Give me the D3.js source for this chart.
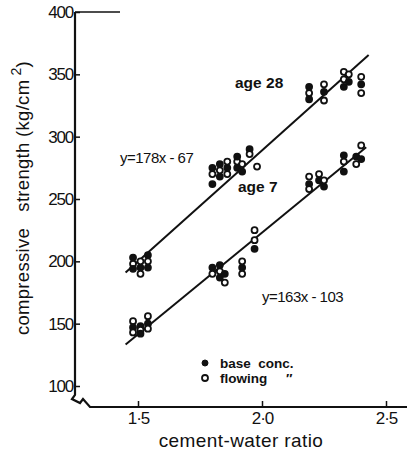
<!DOCTYPE html>
<html><head><meta charset="utf-8">
<script src="https://cdn.jsdelivr.net/npm/d3@7"></script>
<style>
body{margin:0;background:#fff;}
text{font-family:"Liberation Sans",Arial,sans-serif;fill:#111;}
</style></head>
<body><svg id="c" width="407" height="454"></svg>
<script>
// ---- data ----
const xTicks = [1.5, 2.0, 2.5];
const xTickLabels = ["1·5", "2·0", "2·5"];
const yTicks = [100, 150, 200, 250, 300, 350, 400];

// age 28 points: cement-water ratio, strength, flowing (1) / base (0)
const x28 = [1.48,1.48,1.48,1.51,1.51,1.51,1.54,1.54,1.54,
             1.80,1.80,1.80,1.83,1.83,1.83,1.86,1.86,1.86,1.90,1.90,1.90,1.92,1.92,1.95,1.95,1.98,
             2.19,2.19,2.19,2.25,2.25,2.25,
             2.33,2.33,2.33,2.35,2.35,2.40,2.40,2.40];
const y28 = [203,198,194,200,195,190,205,200,195,
             262,270,275,268,273,278,270,275,280,275,280,284,272,278,290,286,276,
             330,335,340,329,336,342,
             340,346,352,344,350,335,342,348];
const f28 = [0,1,0,1,0,1,0,1,0,
             0,1,0,0,1,0,1,0,1,0,1,0,0,1,0,1,1,
             0,1,0,1,0,1,
             0,1,1,0,1,1,0,1];

// age 7 points
const x7 = [1.48,1.48,1.48,1.51,1.51,1.51,1.54,1.54,1.54,
            1.80,1.80,1.83,1.83,1.83,1.85,1.85,1.92,1.92,1.92,1.97,1.97,1.97,
            2.19,2.19,2.19,2.23,2.23,2.25,2.25,
            2.33,2.33,2.33,2.38,2.38,2.40,2.40];
const y7 = [152,147,143,148,145,142,156,150,146,
            195,190,197,192,187,183,190,200,195,190,210,217,225,
            268,262,258,265,270,260,265,
            272,280,285,278,284,282,293];
const f7 = [1,0,1,0,1,0,1,0,1,
            0,1,0,1,0,1,0,1,0,1,0,1,1,
            1,0,1,0,1,0,1,
            0,1,0,1,0,0,1];

// regression lines: slope, intercept, x-range
const line28 = {a:178, b:-67, x0:1.45, x1:2.43};
const line7  = {a:163, b:-103, x0:1.45, x1:2.42};

// ---- chart ----
const svg = d3.select("#c");
const x = d3.scaleLinear().domain([1.5, 2.5]).range([138, 386]);
const y = d3.scaleLinear().domain([100, 400]).range([386, 12]);
const axX = 75, axY = 407;

// y axis line with break
svg.append("path")
  .attr("d", `M${axX},${y(400)} L${axX},395 L72,399 L80,403 L83,399 L90,${axY} L407,${axY}`)
  .attr("fill","none").attr("stroke","#111").attr("stroke-width",2.2);
// top frame piece
svg.append("line").attr("x1",axX).attr("x2",120).attr("y1",y(400)).attr("y2",y(400))
  .attr("stroke","#111").attr("stroke-width",1.6);

const yAxis = svg.append("g").attr("transform",`translate(${axX},0)`)
  .call(d3.axisLeft(y).tickValues(yTicks).tickSizeInner(-5).tickSizeOuter(0).tickPadding(2));
yAxis.select(".domain").remove();
yAxis.selectAll("line").attr("stroke","#111").attr("stroke-width",1.5);
yAxis.selectAll("text").attr("font-size",17).attr("letter-spacing","-1.2px")
  .attr("fill","#111").attr("font-family","Liberation Sans, Arial, sans-serif");

const xAxis = svg.append("g").attr("transform",`translate(0,${axY})`)
  .call(d3.axisBottom(x).tickValues(xTicks).tickFormat((d,i)=>xTickLabels[i])
    .tickSizeInner(-6).tickSizeOuter(0).tickPadding(5));
xAxis.select(".domain").remove();
xAxis.selectAll("line").attr("stroke","#111").attr("stroke-width",1.5);
xAxis.selectAll("text").attr("font-size",17).attr("letter-spacing","-1px")
  .attr("fill","#111").attr("font-family","Liberation Sans, Arial, sans-serif");

// axis titles
svg.append("text").attr("x",241).attr("y",447).attr("text-anchor","middle")
  .attr("font-size",19).attr("letter-spacing","0.4px").text("cement-water ratio");
svg.append("text").attr("transform","translate(29,198) rotate(-90)").attr("text-anchor","middle")
  .attr("font-size",18.5).attr("letter-spacing","0.3px").attr("xml:space","preserve")
  .html('compressive   strength (kg/cm<tspan dy="-8" font-size="14"> 2</tspan><tspan dy="8">)</tspan>');

// regression lines
[line28, line7].forEach(L=>{
  svg.append("line")
    .attr("x1",x(L.x0)).attr("y1",y(L.a*L.x0+L.b))
    .attr("x2",x(L.x1)).attr("y2",y(L.a*L.x1+L.b))
    .attr("stroke","#111").attr("stroke-width",2);
});

// points
function drawPts(xs, ys, fs){
  svg.append("g").selectAll("circle").data(xs.map((d,i)=>({x:d,y:ys[i],f:fs[i]})))
    .join("circle")
    .attr("cx",d=>x(d.x)).attr("cy",d=>y(d.y)).attr("r",3)
    .attr("fill",d=>d.f? "#fff":"#111").attr("stroke","#111").attr("stroke-width",1.8);
}
drawPts(x28,y28,f28);
drawPts(x7,y7,f7);

// annotations
svg.append("text").attr("x",235).attr("y",88).attr("font-size",15.5).attr("font-weight","bold").text("age 28");
svg.append("text").attr("x",238).attr("y",192).attr("font-size",15.5).attr("font-weight","bold").text("age 7");
svg.append("text").attr("x",120).attr("y",163).attr("font-size",15).attr("letter-spacing","-0.5px").attr("xml:space","preserve").text("y=178x - 67");
svg.append("text").attr("x",262).attr("y",302).attr("font-size",15).attr("letter-spacing","-0.5px").attr("xml:space","preserve").text("y=163x - 103");

// legend
svg.append("circle").attr("cx",205).attr("cy",363).attr("r",3).attr("fill","#111").attr("stroke","#111");
svg.append("text").attr("x",220).attr("y",368).attr("font-size",13.5).attr("font-weight","bold").attr("xml:space","preserve").text("base  conc.");
svg.append("circle").attr("cx",205).attr("cy",378).attr("r",3).attr("fill","#fff").attr("stroke","#111").attr("stroke-width",1.8);
svg.append("text").attr("x",220).attr("y",383).attr("font-size",13.5).attr("font-weight","bold").attr("xml:space","preserve").text("flowing     \u2033");
</script></body></html>
